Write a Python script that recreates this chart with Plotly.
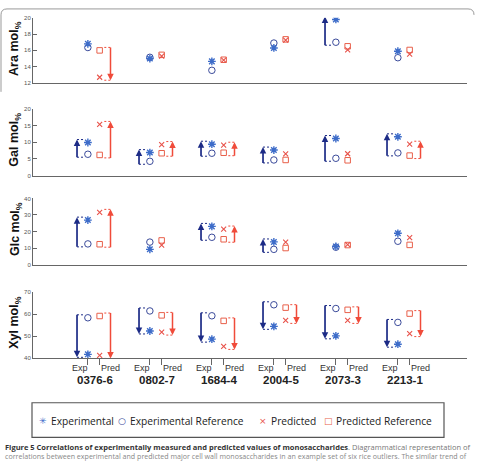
import plotly.graph_objects as go

# ---------------- data ----------------
samples = ["0376-6", "0802-7", "1684-4", "2004-5", "2073-3", "2213-1"]

ara_exp        = [16.8, 15.0, 14.65, 16.3, 19.8, 15.9]
ara_exp_ref    = [16.35, 15.15, 13.55, 16.9, 17.0, 15.1]
ara_pred       = [12.7, 15.3, 14.8, 17.25, 16.05, 15.55]
ara_pred_ref   = [16.0, 15.45, 14.85, 17.35, 16.5, 16.05]
ara_exp_arrow  = [0, 0, 0, 0, 1, 0]
ara_pred_arrow = [1, 0, 0, 0, 0, 0]

gal_exp        = [9.9, 6.9, 9.4, 7.65, 11.1, 11.6]
gal_exp_ref    = [6.4, 4.3, 6.7, 4.7, 5.2, 6.8]
gal_pred       = [15.3, 9.3, 9.1, 6.5, 6.55, 9.4]
gal_pred_ref   = [6.2, 6.7, 6.85, 4.7, 4.6, 6.0]
gal_exp_arrow  = [1, 1, 1, 1, 1, 1]
gal_pred_arrow = [1, 1, 1, 0, 0, 1]

glc_exp        = [26.9, 9.2, 23.1, 13.7, 11.0, 18.9]
glc_exp_ref    = [12.5, 13.6, 16.5, 9.2, 10.5, 14.1]
glc_pred       = [31.6, 11.7, 21.5, 13.6, 12.0, 16.3]
glc_pred_ref   = [12.3, 14.6, 15.3, 10.0, 11.8, 11.9]
glc_exp_arrow  = [1, 0, 1, 1, 0, 0]
glc_pred_arrow = [1, 0, 1, 0, 0, 0]

xyl_exp        = [41.8, 52.4, 48.7, 54.5, 50.2, 46.4]
xyl_exp_ref    = [58.4, 61.5, 59.3, 64.3, 62.6, 56.3]
xyl_pred       = [41.3, 51.9, 45.4, 57.2, 57.2, 51.2]
xyl_pred_ref   = [59.2, 59.5, 57.0, 63.0, 62.0, 60.3]
xyl_exp_arrow  = [1, 1, 1, 1, 1, 1]
xyl_pred_arrow = [1, 1, 1, 1, 1, 1]

ara_ticks = [12, 14, 16, 18, 20]
gal_ticks = [0, 5, 10, 15, 20]
glc_ticks = [0, 10, 20, 30, 40]
xyl_ticks = [40, 50, 60, 70]

panels = [
    dict(name="Ara", exp=ara_exp, exp_ref=ara_exp_ref, pred=ara_pred, pred_ref=ara_pred_ref,
         ea=ara_exp_arrow, pa=ara_pred_arrow, ticks=ara_ticks, px=(15, 81)),
    dict(name="Gal", exp=gal_exp, exp_ref=gal_exp_ref, pred=gal_pred, pred_ref=gal_pred_ref,
         ea=gal_exp_arrow, pa=gal_pred_arrow, ticks=gal_ticks, px=(107, 175)),
    dict(name="Glc", exp=glc_exp, exp_ref=glc_exp_ref, pred=glc_pred, pred_ref=glc_pred_ref,
         ea=glc_exp_arrow, pa=glc_pred_arrow, ticks=glc_ticks, px=(198, 265)),
    dict(name="Xyl", exp=xyl_exp, exp_ref=xyl_exp_ref, pred=xyl_pred, pred_ref=xyl_pred_ref,
         ea=xyl_exp_arrow, pa=xyl_pred_arrow, ticks=xyl_ticks, px=(293, 360)),
]

# ---------------- style ----------------
W, H = 478, 463
X0, X1 = 33, 467
XR = [0.02, 7.02]
OFF = 0.095      # exp / pred offset from group centre
AOFF = 0.27      # arrow offset from group centre
BR = 0.1         # bracket length
PAD_PX = 3

C_AST = "#3d6cc9"
C_CIR = "#3a4a9a"
C_X = "#e8524a"
C_SQ = "#e8604a"
C_BARROW = "#1c2b86"
C_RARROW = "#f04b3a"
AX_COL = "#666666"

def py(p):
    return 1 - p / H

def pxx(p):
    return p / W

fig = go.Figure()
annotations = []
groups = list(range(1, len(samples) + 1))
exp_x = [g - OFF for g in groups]
pred_x = [g + OFF for g in groups]

for k, p in enumerate(panels, start=1):
    xs = "x" if k == 1 else f"x{k}"
    ys = "y" if k == 1 else f"y{k}"
    top, bot = p["px"]
    ymin, ymax = p["ticks"][0], p["ticks"][-1]
    unit = (bot - top) / (ymax - ymin)
    pad = PAD_PX / unit

    # brackets + arrows
    for side, vals, refs, flags, col in (
        ("exp", p["exp"], p["exp_ref"], p["ea"], C_BARROW),
        ("pred", p["pred"], p["pred_ref"], p["pa"], C_RARROW),
    ):
        bx, by = [], []
        ax_l, ay_l = [], []
        hx, hy, hs = [], [], []
        for i, g in enumerate(groups):
            if not flags[i]:
                continue
            v, r = vals[i], refs[i]
            sgn = 1 if v > r else -1
            start = r - sgn * pad
            end = v + sgn * pad
            if side == "exp":
                ax_x = g - AOFF
                bx += [ax_x, ax_x + BR, None, ax_x, ax_x + BR, None]
            else:
                ax_x = g + AOFF
                bx += [ax_x - BR, ax_x, None, ax_x - BR, ax_x, None]
            by += [start, start, None, end, end, None]
            ax_l += [ax_x, ax_x, None]
            ay_l += [start, end - sgn * 2 / unit, None]
            hx.append(ax_x)
            hy.append(end)
            hs.append("arrow-up" if sgn > 0 else "arrow-down")
        if bx:
            fig.add_trace(go.Scatter(x=bx, y=by, xaxis=xs, yaxis=ys, mode="lines",
                                     line=dict(color=col, width=1, dash="2px,2px"),
                                     hoverinfo="skip", showlegend=False))
            fig.add_trace(go.Scatter(x=ax_l, y=ay_l, xaxis=xs, yaxis=ys, mode="lines",
                                     line=dict(color=col, width=1.7 if side == "exp" else 1.5),
                                     hoverinfo="skip", showlegend=False))
            fig.add_trace(go.Scatter(x=hx, y=hy, xaxis=xs, yaxis=ys, mode="markers",
                                     marker=dict(symbol=hs, size=6.5, color=col,
                                                 line=dict(width=0)),
                                     hoverinfo="skip", showlegend=False))

    fig.add_trace(go.Scatter(x=exp_x, y=p["exp_ref"], xaxis=xs, yaxis=ys, mode="markers",
                             name="Experimental Reference", showlegend=False,
                             marker=dict(symbol="circle-open", size=6.5, color=C_CIR,
                                         line=dict(width=1, color=C_CIR))))
    fig.add_trace(go.Scatter(x=exp_x, y=p["exp"], xaxis=xs, yaxis=ys, mode="markers",
                             name="Experimental", showlegend=False,
                             marker=dict(symbol="asterisk-open", size=6.5, color=C_AST,
                                         line=dict(width=1.4, color=C_AST))))
    fig.add_trace(go.Scatter(x=pred_x, y=p["pred_ref"], xaxis=xs, yaxis=ys, mode="markers",
                             name="Predicted Reference", showlegend=False,
                             marker=dict(symbol="square-open", size=5.5, color=C_SQ,
                                         line=dict(width=1, color=C_SQ))))
    fig.add_trace(go.Scatter(x=pred_x, y=p["pred"], xaxis=xs, yaxis=ys, mode="markers",
                             name="Predicted", showlegend=False,
                             marker=dict(symbol="x-thin-open", size=5, color=C_X,
                                         line=dict(width=1.1, color=C_X))))

    xkey = "xaxis" if k == 1 else f"xaxis{k}"
    ykey = "yaxis" if k == 1 else f"yaxis{k}"
    xa = dict(domain=[pxx(X0), pxx(X1)], range=XR, anchor=ys, showline=True,
              linecolor=AX_COL, linewidth=1.2, showgrid=False, zeroline=False,
              showticklabels=False, ticks="", fixedrange=True)
    if k == 4:
        xa.update(ticks="outside", ticklen=6, tickwidth=1, tickcolor=AX_COL,
                  tickvals=sorted(exp_x + pred_x))
    fig.update_layout(**{
        xkey: xa,
        ykey: dict(domain=[py(bot), py(top)], range=[ymin, ymax], anchor=xs,
                   showline=True, linecolor=AX_COL, linewidth=1, showgrid=False,
                   zeroline=False, ticks="inside", ticklen=4, tickwidth=1,
                   tickcolor=AX_COL, tickvals=p["ticks"],
                   tickfont=dict(family="Arial", size=6, color="#555555"),
                   fixedrange=True),
    })
    annotations.append(dict(
        x=pxx(15.5), y=py((top + bot) / 2 - 2), xref="paper", yref="paper",
        text=f"<b>{p['name']} mol<sub>%</sub></b>", textangle=-90, showarrow=False,
        font=dict(family="Arial", size=12.5, color="#111111"),
        xanchor="center", yanchor="middle"))

# x labels on bottom panel
for i, g in enumerate(groups):
    annotations.append(dict(x=exp_x[i], y=py(370), xref="x4", yref="paper", text="Exp",
                            showarrow=False, xanchor="right", yanchor="middle", xshift=2,
                            font=dict(family="Arial", size=9, color="#333333")))
    annotations.append(dict(x=pred_x[i], y=py(370), xref="x4", yref="paper", text="Pred",
                            showarrow=False, xanchor="left", yanchor="middle", xshift=-1,
                            font=dict(family="Arial", size=9, color="#333333")))
    annotations.append(dict(x=g, y=py(382), xref="x4", yref="paper", text=f"<b>{samples[i]}</b>",
                            showarrow=False, xanchor="center", yanchor="middle", xshift=1,
                            font=dict(family="Arial", size=11.5, color="#222222")))

# manual legend
leg_items = [
    ("✳", C_AST, 43, "Experimental", 49),
    ("○", C_CIR, 122, "Experimental Reference", 128),
    ("×", C_X, 263, "Predicted", 269),
    ("□", C_SQ, 328, "Predicted Reference", 334),
]
for sym, col, sx, label, tx in leg_items:
    annotations.append(dict(x=pxx(sx), y=py(423), xref="paper", yref="paper", text=sym,
                            showarrow=False, xanchor="center", yanchor="middle",
                            font=dict(family="DejaVu Sans", size=9, color=col)))
    annotations.append(dict(x=pxx(tx), y=py(423), xref="paper", yref="paper", text=label,
                            showarrow=False, xanchor="left", yanchor="middle",
                            font=dict(family="Open Sans", size=10.2, color="#222222")))

# caption
cap1 = ("<b><span style='color:#333333'>Figure 5 Correlations of experimentally measured and "
        "predicted values of monosaccharides</span></b>. Diagrammatical representation of")
cap2 = ("correlations between experimental and predicted major cell wall monosaccharides "
        "in an example set of six rice outliers. The similar trend of")
annotations.append(dict(x=pxx(3), y=py(450), xref="paper", yref="paper", text=cap1,
                        showarrow=False, xanchor="left", yanchor="middle",
                        font=dict(family="Open Sans", size=7.5, color="#777777")))
annotations.append(dict(x=pxx(3), y=py(459), xref="paper", yref="paper", text=cap2,
                        showarrow=False, xanchor="left", yanchor="middle",
                        font=dict(family="Open Sans", size=7.1, color="#888888")))

shapes = [
    dict(type="rect", xref="paper", yref="paper", x0=pxx(32), x1=pxx(444),
         y0=py(440), y1=py(405), line=dict(color="#555555", width=1.2)),
    dict(type="path", xref="paper", yref="paper",
         path=(f"M {pxx(1)},{py(90)} L {pxx(1)},{py(12)} Q {pxx(1)},{py(6)} {pxx(7)},{py(6)} "
               f"L {pxx(468)},{py(6)} Q {pxx(474)},{py(6)} {pxx(474)},{py(12)}"),
         line=dict(color="#999999", width=1)),
]

fig.update_layout(
    width=W, height=H, margin=dict(l=0, r=0, t=0, b=0),
    paper_bgcolor="white", plot_bgcolor="white", showlegend=False,
    annotations=annotations, shapes=shapes,
)

fig.write_html("out.html")
